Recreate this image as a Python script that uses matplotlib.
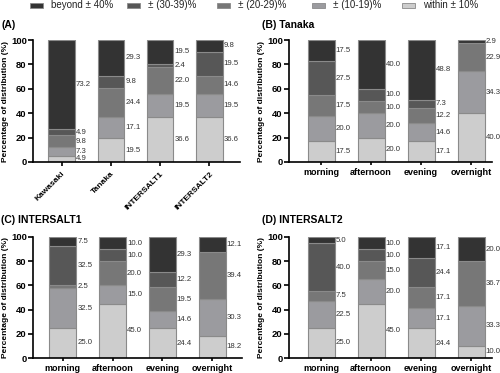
import matplotlib
matplotlib.use("Agg")
import matplotlib.pyplot as plt
from matplotlib.patches import Rectangle
import numpy as np

plt.rcParams['font.family'] = ['Liberation Sans', 'DejaVu Sans']

# categories (stack order bottom -> top)
categories = ["within ± 10%", "± (10-19)%", "± (20-29)%", "± (30-39)%", "beyond ± 40%"]
colors = ["#cdcdcd", "#9b9b9f", "#777777", "#575757", "#333333"]

# Panel A
a_groups = ["Kawasaki", "Tanaka", "INTERSALT1", "INTERSALT2"]
a_within = [4.9, 19.5, 36.6, 36.6]
a_10_19 = [7.3, 17.1, 19.5, 19.5]
a_20_29 = [9.8, 24.4, 22.0, 14.6]
a_30_39 = [4.9, 9.8, 2.4, 19.5]
a_beyond = [73.2, 29.3, 19.5, 9.8]

times = ["morning", "afternoon", "evening", "overnight"]

# Panel B: Tanaka
b_within = [17.5, 20.0, 17.1, 40.0]
b_10_19 = [20.0, 20.0, 14.6, 34.3]
b_20_29 = [17.5, 10.0, 12.2, 22.9]
b_30_39 = [27.5, 10.0, 7.3, 0.0]
b_beyond = [17.5, 40.0, 48.8, 2.9]

# Panel C: INTERSALT1
c_within = [25.0, 45.0, 24.4, 18.2]
c_10_19 = [32.5, 15.0, 14.6, 30.3]
c_20_29 = [2.5, 20.0, 19.5, 39.4]
c_30_39 = [32.5, 10.0, 12.2, 0.0]
c_beyond = [7.5, 10.0, 29.3, 12.1]

# Panel D: INTERSALT2
d_within = [25.0, 45.0, 24.4, 10.0]
d_10_19 = [22.5, 20.0, 17.1, 33.3]
d_20_29 = [7.5, 15.0, 17.1, 36.7]
d_30_39 = [40.0, 10.0, 24.4, 0.0]
d_beyond = [5.0, 10.0, 17.1, 20.0]

W, H = 500, 373
fig = plt.figure(figsize=(W / 100, H / 100), dpi=100)


def px_axes(left, right, top, bottom):
    return fig.add_axes([left / W, (H - bottom) / H, (right - left) / W, (bottom - top) / H])


def draw_panel(ax, groups, series, xlim, rotate=False):
    x = np.arange(len(groups))
    bw = 0.54
    bottom = np.zeros(len(groups))
    for vals, col in zip(series, colors):
        v = np.array(vals)
        ax.bar(x, v, bw, bottom=bottom, color=col, edgecolor="#8a8a8a", linewidth=0.8, zorder=2)
        bottom = bottom + v
    # value labels
    for i in range(len(groups)):
        b = 0.0
        pos = []
        for vals in series:
            v = vals[i]
            if v > 0:
                pos.append([b + v / 2, v])
            b += v
        prev = -10
        for p in pos:
            y = max(p[0], prev + 5.0, 2.5)
            p[0] = y
            prev = y
        for y, v in pos:
            ax.text(x[i] + bw / 2 + 0.02, y, f"{v:.1f}", fontsize=5.6, color="#333333",
                    va="center", ha="left", zorder=3)
    ax.set_xlim(*xlim)
    ax.set_ylim(0, 100)
    ax.set_yticks([0, 20, 40, 60, 80, 100])
    ax.set_xticks(x)
    if rotate:
        ax.set_xticklabels(groups, rotation=45, ha="right", rotation_mode="anchor",
                           fontsize=6, fontweight="bold")
        ax.tick_params(axis="x", length=3, width=1.2, pad=3)
    else:
        ax.set_xticklabels(groups, fontsize=6.5, fontweight="bold")
        ax.tick_params(axis="x", length=2.5, width=1.2, pad=1.5)
    for lab in ax.get_yticklabels():
        lab.set_fontweight("bold")
        lab.set_fontsize(6.8)
    ax.spines["top"].set_visible(False)
    ax.spines["right"].set_visible(False)
    ax.spines["left"].set_linewidth(1.2)
    ax.spines["bottom"].set_linewidth(1.2)
    ax.tick_params(axis="y", length=3.5, width=1.2, pad=1)
    ax.set_ylabel("Percentage of distribution (%)", fontsize=6.0, fontweight="bold", labelpad=1.5)


axA = px_axes(33, 240, 40, 162)
draw_panel(axA, a_groups, [a_within, a_10_19, a_20_29, a_30_39, a_beyond], (-0.58, 3.62), rotate=True)
axB = px_axes(289, 492, 40, 162)
draw_panel(axB, times, [b_within, b_10_19, b_20_29, b_30_39, b_beyond], (-0.64, 3.42))
axC = px_axes(33, 242, 237, 358)
draw_panel(axC, times, [c_within, c_10_19, c_20_29, c_30_39, c_beyond], (-0.6, 3.6))
axD = px_axes(289, 492, 237, 358)
draw_panel(axD, times, [d_within, d_10_19, d_20_29, d_30_39, d_beyond], (-0.64, 3.42))

# panel titles
fig.text(1 / W, 1 - 25 / H, "(A)", fontsize=7.5, fontweight="bold", va="center")
fig.text(262 / W, 1 - 25 / H, "(B) Tanaka", fontsize=7.5, fontweight="bold", va="center")
fig.text(1 / W, 1 - 220 / H, "(C) INTERSALT1", fontsize=7.5, fontweight="bold", va="center")
fig.text(262 / W, 1 - 220 / H, "(D) INTERSALT2", fontsize=7.5, fontweight="bold", va="center")

# legend (top, beyond first)
leg_x = [30, 127, 217, 312, 402]
for lx, lab, col in zip(leg_x, categories[::-1], colors[::-1]):
    fig.patches.append(Rectangle((lx / W, 1 - 8 / H), 13 / W, 5 / H, transform=fig.transFigure,
                                 facecolor=col, edgecolor="#8a8a8a", linewidth=0.6))
    fig.text((lx + 21) / W, 1 - 5.5 / H, lab, fontsize=7, va="center", color="#222222")

fig.savefig("out.png", dpi=100)
